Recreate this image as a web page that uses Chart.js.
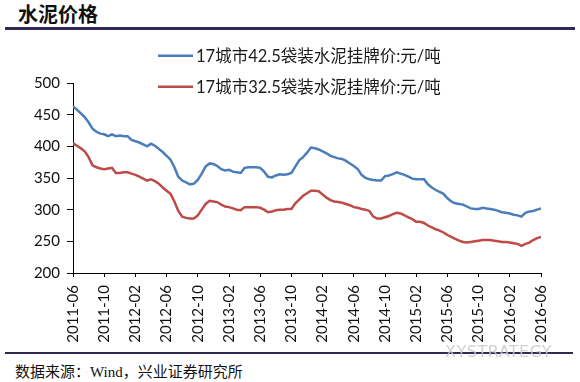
<!DOCTYPE html>
<html>
<head>
<meta charset="utf-8">
<script src="https://cdn.jsdelivr.net/npm/chart.js@4"></script>
<style>
  body { margin:0; background:#fff; width:580px; height:382px; position:relative; overflow:hidden; }
  #title { position:absolute; left:18px; top:3px; font:700 20px/22px "Noto Sans CJK SC", sans-serif; color:#111; }
  #topline { position:absolute; left:5px; top:27px; width:570px; height:3px; background:#2f2b56; }
  #botline { position:absolute; left:5px; top:352px; width:568px; height:2px; background:#2f2b56; }
  #source { position:absolute; left:15px; top:362px; font:15px/20px "Liberation Serif", "Noto Sans CJK SC", serif; color:#111; }
  #mark { position:absolute; left:445px; top:342px; font:16px/20px "DejaVu Sans", sans-serif; color:rgba(200,200,200,0.85); letter-spacing:0.5px; }
  #wrap { position:absolute; left:0; top:30px; width:580px; height:320px; }
</style>
</head>
<body>
<div id="title">水泥价格</div>
<div id="topline"></div>
<div id="wrap"><canvas id="cementChart"></canvas></div>
<div id="botline"></div>
<div id="mark">XYSTRATEGY</div>
<div id="source">数据来源：Wind，兴业证券研究所</div>
<script>
const ctx = document.getElementById('cementChart');

/* =========================
   DATA (half-month steps from 2011-06)
========================= */
const tickLabels = ['2011-06','2011-10','2012-02','2012-06','2012-10','2013-02','2013-06','2013-10',
  '2014-02','2014-06','2014-10','2015-02','2015-06','2015-10','2016-02','2016-06'];

const seriesNames = ['17城市42.5袋装水泥挂牌价:元/吨', '17城市32.5袋装水泥挂牌价:元/吨'];

const price425 = [
  463,458,452,446,438,428,423,420,
  419,416,419,416,417,416,416,410,
  408,406,403,400,404,401,396,391,
  385,379,367,352,346,343,340,341,
  347,357,368,373,372,369,364,362,
  363,360,359,358,366,367,367,367,
  366,360,352,351,354,356,355,356,
  358,368,378,383,390,398,397,395,
  392,389,385,383,381,380,377,373,
  369,364,355,350,348,347,346,346,
  353,354,356,359,357,355,352,349,
  348,348,348,340,335,331,328,325,
  318,313,310,309,308,305,302,301,
  301,303,302,301,300,298,296,295,
  294,292,291,289,295,297,298,300,
  302
];

const price325 = [
  405,401,397,392,383,370,367,365,
  364,365,366,358,358,359,359,357,
  355,352,349,346,348,345,341,335,
  330,325,313,298,289,287,286,286,
  291,300,309,314,313,312,308,305,
  304,302,300,299,304,304,304,304,
  303,300,296,297,299,300,300,301,
  301,310,316,322,326,330,330,329,
  324,319,315,313,312,311,309,307,
  304,303,301,300,298,289,286,286,
  288,290,293,295,294,291,288,285,
  281,281,279,275,272,269,267,264,
  260,257,254,251,249,248,249,250,
  251,252,252,252,251,250,249,249,
  248,247,246,243,246,248,252,255,
  257
];

const colors = ['#4a7ebb', '#be4b48'];

function toPoints(arr){
  return arr.map((v, i) => ({ x: i / 2, y: v }));
}

/* =========================
   LEGEND (drawn inside the plot)
========================= */
const innerLegend = {
  id: 'innerLegend',
  afterDraw(chart){
    const c = chart.ctx;
    const rows = [25.7, 56.7];
    c.save();
    c.font = '16.5px Lato, "Noto Sans CJK SC", sans-serif';
    c.textBaseline = 'middle';
    chart.data.datasets.forEach((ds, i) => {
      c.strokeStyle = ds.borderColor;
      c.lineWidth = 2.5;
      c.beginPath();
      c.moveTo(158, rows[i]);
      c.lineTo(193, rows[i]);
      c.stroke();
      c.fillStyle = '#1a1a1a';
      c.fillText(ds.label, 196, rows[i] + 1);
    });
    c.restore();
  }
};

new Chart(ctx, {
  type: 'line',
  data: {
    datasets: [
      { label: seriesNames[0], data: toPoints(price425), borderColor: colors[0], borderWidth: 2.5, pointRadius: 0, tension: 0 },
      { label: seriesNames[1], data: toPoints(price325), borderColor: colors[1], borderWidth: 2.5, pointRadius: 0, tension: 0 }
    ]
  },
  options: {
    responsive: true,
    maintainAspectRatio: false,
    animation: false,
    layout: { padding: { left: 0, top: 53, right: 39, bottom: 0 } },
    plugins: {
      legend: { display: false },
      tooltip: { enabled: false }
    },
    scales: {
      x: {
        type: 'linear',
        min: 0,
        max: 60,
        afterFit: s => { s.height = 77; },
        grid: { drawOnChartArea: false, drawTicks: true, tickLength: 4, color: '#000' },
        border: { color: '#000', width: 1 },
        ticks: {
          stepSize: 4,
          minRotation: 90,
          maxRotation: 90,
          padding: 8,
          color: '#111',
          font: { family: 'Lato', size: 15 },
          callback: v => tickLabels[v / 4] || ''
        }
      },
      y: {
        min: 200,
        max: 500,
        afterFit: s => { s.width = 73; },
        grid: { drawOnChartArea: false, drawTicks: true, tickLength: 6, color: '#000' },
        border: { color: '#000', width: 1 },
        ticks: {
          stepSize: 50,
          padding: 7,
          color: '#111',
          font: { family: 'Lato', size: 15 }
        }
      }
    }
  },
  plugins: [innerLegend]
});
</script>
</body>
</html>
